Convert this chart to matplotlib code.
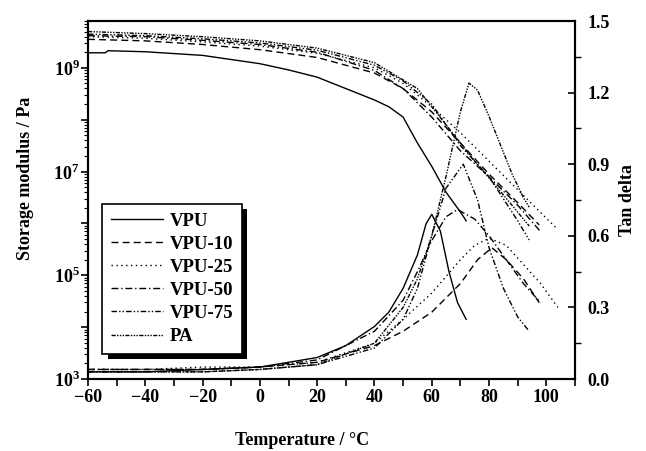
"""DMA of VPU blends: storage modulus (log, left) and tan delta (right) vs temperature."""

import matplotlib

matplotlib.use("Agg")
import matplotlib.pyplot as plt
import matplotlib.patheffects as pe
import numpy as np
from matplotlib.ticker import FixedLocator, FuncFormatter, MultipleLocator

plt.rcParams["font.family"] = ["Liberation Serif", "DejaVu Serif"]
plt.rcParams["font.weight"] = "bold"
plt.rcParams["mathtext.fontset"] = "custom"
plt.rcParams["mathtext.rm"] = "Liberation Serif:bold"
plt.rcParams["mathtext.bf"] = "Liberation Serif:bold"

LABELS = ["VPU", "VPU-10", "VPU-25", "VPU-50", "VPU-75", "PA"]
STYLES = ["-", (0, (5, 3)), (0, (1, 2.5)), (0, (5, 2, 1, 2)),
          (0, (4, 1.5, 1, 1.5, 1, 1.5)), (0, (3, 1, 1, 1, 1, 1, 1, 1))]

# storage modulus, log10(Pa)
T_E_VPU = [-60, -54, -53, -40, -20, 0, 10, 20, 30, 40, 45, 50, 55, 60, 65, 70, 72]
LOGE_VPU = [9.29, 9.29, 9.33, 9.31, 9.24, 9.08, 8.96, 8.82, 8.6, 8.38, 8.25, 8.05,
            7.55, 7.1, 6.6, 6.22, 6.05]
T_E_10 = [-60, -40, -20, 0, 20, 40, 50, 60, 70, 80, 90, 97.5]
LOGE_10 = [9.55, 9.52, 9.45, 9.35, 9.2, 8.9, 8.6, 8.15, 7.55, 6.95, 6.4, 5.97]
T_E_25 = [-60, -40, -20, 0, 20, 40, 50, 60, 70, 80, 90, 104]
LOGE_25 = [9.6, 9.57, 9.5, 9.42, 9.28, 9.0, 8.7, 8.25, 7.75, 7.2, 6.65, 5.88]
T_E_50 = [-60, -40, -20, 0, 20, 40, 50, 60, 70, 80, 90, 98]
LOGE_50 = [9.62, 9.6, 9.53, 9.45, 9.3, 8.95, 8.6, 8.05, 7.4, 6.9, 6.35, 5.84]
T_E_75 = [-60, -40, -20, 0, 20, 40, 50, 60, 70, 80, 90, 94]
LOGE_75 = [9.65, 9.62, 9.56, 9.48, 9.34, 9.05, 8.75, 8.3, 7.5, 6.9, 6.05, 5.68]
T_E_PA = [-60, -40, -20, 0, 20, 40, 55, 65, 75, 85, 94]
LOGE_PA = [9.7, 9.66, 9.6, 9.52, 9.38, 9.1, 8.6, 7.9, 7.2, 6.55, 5.95]

# tan delta
T_D_VPU = [-60, -40, -20, 0, 20, 30, 40, 45, 50, 55, 58, 60, 63, 66, 69, 72]
TAN_VPU = [0.03, 0.03, 0.04, 0.05, 0.09, 0.14, 0.22, 0.28, 0.38, 0.52, 0.65, 0.69,
           0.62, 0.45, 0.32, 0.25]
T_D_10 = [-60, -40, -20, 0, 20, 40, 50, 60, 70, 76, 81, 86, 92, 97.5]
TAN_10 = [0.04, 0.04, 0.04, 0.05, 0.07, 0.14, 0.2, 0.28, 0.4, 0.5, 0.55, 0.5, 0.42, 0.32]
T_D_25 = [-60, -40, -20, 0, 20, 40, 50, 60, 70, 75, 80, 86, 92, 98, 104]
TAN_25 = [0.04, 0.04, 0.05, 0.05, 0.07, 0.15, 0.25, 0.36, 0.5, 0.56, 0.59, 0.56, 0.48, 0.4, 0.3]
T_D_50 = [-60, -40, -20, 0, 20, 40, 50, 55, 60, 65, 69, 75, 80, 86, 92, 98]
TAN_50 = [0.04, 0.04, 0.04, 0.05, 0.08, 0.2, 0.33, 0.45, 0.58, 0.68, 0.71, 0.67, 0.6,
          0.5, 0.4, 0.32]
T_D_75 = [-60, -40, -20, 0, 20, 40, 50, 55, 60, 65, 71, 76, 80, 85, 90, 94]
TAN_75 = [0.03, 0.03, 0.03, 0.04, 0.06, 0.13, 0.25, 0.38, 0.6, 0.8, 0.9, 0.75, 0.55,
          0.38, 0.26, 0.2]
T_D_PA = [-60, -40, -20, 0, 20, 40, 50, 55, 60, 65, 70, 73, 76, 80, 84, 88, 92, 94]
TAN_PA = [0.03, 0.03, 0.03, 0.04, 0.06, 0.15, 0.3, 0.42, 0.6, 0.85, 1.12, 1.24, 1.21,
          1.1, 0.98, 0.86, 0.76, 0.72]

MODULUS = [(T_E_VPU, LOGE_VPU), (T_E_10, LOGE_10), (T_E_25, LOGE_25),
           (T_E_50, LOGE_50), (T_E_75, LOGE_75), (T_E_PA, LOGE_PA)]
TANDELTA = [(T_D_VPU, TAN_VPU), (T_D_10, TAN_10), (T_D_25, TAN_25),
            (T_D_50, TAN_50), (T_D_75, TAN_75), (T_D_PA, TAN_PA)]


def main():
    fig = plt.figure(figsize=(6.46, 4.51), dpi=100)
    ax = fig.add_axes([88 / 646, 72 / 451, 487 / 646, 358 / 451])
    ax2 = ax.twinx()

    handles = []
    for lab, ls, (t, le), (td, tan) in zip(LABELS, STYLES, MODULUS, TANDELTA):
        h, = ax.plot(t, 10 ** np.asarray(le), color="black", lw=1.0, ls=ls, label=lab)
        ax2.plot(td, tan, color="black", lw=1.0, ls=ls)
        handles.append(h)

    ax.set_yscale("log")
    ax.set_xlim(-60, 110)
    ax.set_ylim(1e3, 8e9)
    ax2.set_ylim(0, 1.5)

    ax.yaxis.set_major_locator(FixedLocator([10.0 ** k for k in range(3, 10)]))
    ax.yaxis.set_major_formatter(FuncFormatter(
        lambda v, p: rf"$10^{{{int(round(np.log10(v)))}}}$"
        if int(round(np.log10(v))) % 2 == 1 else ""))
    ax.xaxis.set_major_locator(MultipleLocator(20))
    ax.xaxis.set_minor_locator(MultipleLocator(10))
    ax2.yaxis.set_major_locator(MultipleLocator(0.3))
    ax2.yaxis.set_minor_locator(MultipleLocator(0.15))
    ax2.yaxis.set_major_formatter(FuncFormatter(lambda v, p: f"{v:.1f}"))

    ax.tick_params(axis="x", which="both", direction="out", length=5, width=1.2,
                   labelsize=13, pad=2)
    ax.tick_params(axis="y", which="major", direction="out", length=5, width=1.2,
                   labelsize=13, pad=1)
    ax.tick_params(axis="y", which="minor", direction="out", length=3, width=0.8)
    ax2.tick_params(axis="y", which="major", direction="in", length=5, width=1.2,
                    labelsize=13, pad=9)
    ax2.tick_params(axis="y", which="minor", direction="out", length=4, width=1.0)

    for a in (ax, ax2):
        for s in a.spines.values():
            s.set_linewidth(1.5)

    ax.set_xlabel("Temperature / °C", fontsize=13, fontweight="bold")
    ax.set_ylabel("Storage modulus / Pa", fontsize=13, fontweight="bold")
    ax2.set_ylabel("Tan delta", fontsize=13, fontweight="bold")
    ax.xaxis.set_label_coords(0.44, -0.148)
    ax.yaxis.set_label_coords(-0.111, 0.56)
    ax2.yaxis.set_label_coords(1.09, 0.5)

    leg = ax.legend(handles=handles, loc="upper left", bbox_to_anchor=(0.029, 0.489),
                    borderaxespad=0, frameon=True, fancybox=False, edgecolor="black",
                    framealpha=1.0, fontsize=13.5, handlelength=2.8, handletextpad=0.35,
                    labelspacing=0.32, borderpad=0.45)
    frame = leg.get_frame()
    frame.set_linewidth(1.2)
    frame.set_path_effects([pe.SimplePatchShadow(offset=(4, -4), shadow_rgbFace="black",
                                                 alpha=1.0), pe.Normal()])
    for t in leg.get_texts():
        t.set_fontweight("bold")

    fig.savefig("out.png", dpi=100)


if __name__ == "__main__":
    main()
